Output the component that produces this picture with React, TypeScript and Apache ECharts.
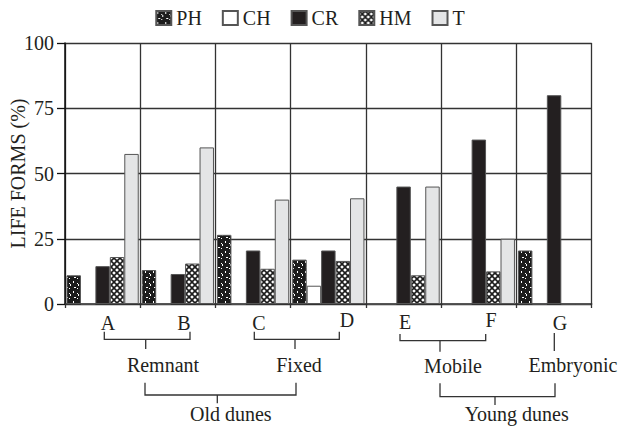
import React, { useEffect, useRef } from "react";
import * as echarts from "echarts";

// ---- data ----
const categories = ["A", "B", "C", "D", "E", "F", "G"];
const seriesNames = ["PH", "CH", "CR", "HM", "T"];
const phValues = [11, 13, 26.5, 17, 0, 0, 20.5];
const chValues = [0, 0, 0, 7, 0, 0, 0];
const crValues = [14.5, 11.5, 20.5, 20.5, 45, 63, 80];
const hmValues = [18, 15.5, 13.5, 16.5, 11, 12.5, 0];
const tValues = [57.5, 60, 40, 40.5, 45, 25, 0];
const yMin = 0;
const yMax = 100;
const yInterval = 25;
const yTitle = "LIFE FORMS (%)";
const level1Labels = ["Remnant", "Fixed", "Mobile", "Embryonic"];
const level2Labels = ["Old dunes", "Young dunes"];

// ---- layout (positions only) ----
const catLabelX = [108, 184, 259, 347, 405, 491, 560];
const catLabelY = [322.5, 322.5, 323, 319.5, 321.5, 320, 323];
const level1Brackets = [
  { x1: 104.3, x2: 190, y: 339.3, top: 331.7, stem: 145.7, bottom: 349, lx: 163, ly: 364.5 },
  { x1: 254.3, x2: 339.3, y: 339.3, top: 331.7, stem: 295, bottom: 349, lx: 299, ly: 364.5 },
  { x1: 400, x2: 485.7, y: 340.7, top: 334, stem: 440, bottom: 351.7, lx: 453, ly: 366 },
  { x1: 554.3, x2: 554.3, y: 333, top: 333, stem: 554.3, bottom: 351, lx: 573, ly: 365 },
];
const level2Brackets = [
  { x1: 145, x2: 296, y: 395, top: 382.7, stem: 217.3, bottom: 403.3, lx: 230.8, ly: 414 },
  { x1: 440, x2: 555, y: 396.7, top: 383.3, stem: 495, bottom: 405, lx: 516.7, ly: 414 },
];

const FONT = '"Liberation Serif", "DejaVu Serif", serif';
const TEXT = "#231f20";
const LINE = "#333";

function makeTile(w: number, h: number, draw: (ctx: CanvasRenderingContext2D) => void) {
  const c = document.createElement("canvas");
  c.width = w;
  c.height = h;
  const ctx = c.getContext("2d")!;
  draw(ctx);
  return { image: c, repeat: "repeat" } as any;
}

export default function App() {
  const ref = useRef<HTMLDivElement>(null);
  useEffect(() => {
    if (!ref.current) return;
    document.body.style.margin = "0";
    const chart = echarts.init(ref.current, undefined, { renderer: "svg" });

    const speckle = makeTile(8, 10, (ctx) => {
      ctx.fillStyle = "#1c1c1c";
      ctx.fillRect(0, 0, 8, 10);
      ctx.fillStyle = "#ffffff";
      ctx.fillRect(1, 1, 1, 2);
      ctx.fillRect(5, 3, 1, 1);
      ctx.fillRect(6, 4, 1, 2);
      ctx.fillRect(2, 7, 2, 1);
      ctx.fillRect(5, 8, 1, 1);
    });
    const hatch = makeTile(6, 6, (ctx) => {
      ctx.fillStyle = "#ffffff";
      ctx.fillRect(0, 0, 6, 6);
      ctx.strokeStyle = "#1c1c1c";
      ctx.lineWidth = 1.6;
      for (const o of [-6, 0, 6]) {
        ctx.beginPath();
        ctx.moveTo(o, 0);
        ctx.lineTo(o + 6, 6);
        ctx.stroke();
        ctx.beginPath();
        ctx.moveTo(o + 6, 0);
        ctx.lineTo(o, 6);
        ctx.stroke();
      }
    });

    const fills = [speckle, "#ffffff", "#231f20", hatch, "#e4e5e6"];
    const values = [phValues, chValues, crValues, hmValues, tValues];

    const graphic: any[] = [];
    categories.forEach((c, i) => {
      graphic.push({
        type: "text",
        x: catLabelX[i],
        y: catLabelY[i],
        style: { text: c, font: `20px ${FONT}`, fill: TEXT, align: "center", verticalAlign: "middle" },
      });
    });
    const addBracket = (b: any, label: string) => {
      graphic.push({
        type: "polyline",
        shape: { points: [[b.x1, b.top], [b.x1, b.y], [b.x2, b.y], [b.x2, b.top]] },
        style: { stroke: LINE, lineWidth: 1.3, fill: null },
      });
      graphic.push({
        type: "line",
        shape: { x1: b.stem, y1: b.y, x2: b.stem, y2: b.bottom },
        style: { stroke: LINE, lineWidth: 1.3 },
      });
      graphic.push({
        type: "text",
        x: b.lx,
        y: b.ly,
        style: { text: label, font: `20px ${FONT}`, fill: TEXT, align: "center", verticalAlign: "middle" },
      });
    };
    level1Brackets.forEach((b, i) => addBracket(b, level1Labels[i]));
    level2Brackets.forEach((b, i) => addBracket(b, level2Labels[i]));

    chart.setOption({
      animation: false,
      backgroundColor: "#ffffff",
      legend: {
        data: seriesNames,
        top: 3,
        left: "center",
        icon: "rect",
        itemWidth: 15,
        itemHeight: 14,
        itemGap: 20,
        textStyle: { fontFamily: FONT, fontSize: 20, color: TEXT },
      },
      grid: {
        left: 65,
        right: 28.3,
        top: 43,
        bottom: 124,
        containLabel: false,
        outerBoundsMode: "none",
      },
      xAxis: {
        type: "category",
        data: categories,
        boundaryGap: true,
        axisLine: { lineStyle: { color: LINE, width: 1.5 } },
        axisTick: { show: true, length: 4, interval: 0, lineStyle: { color: LINE, width: 1.3 } },
        axisLabel: { show: false },
        splitLine: { show: true, interval: 0, lineStyle: { color: LINE, width: 1.3 } },
      },
      yAxis: {
        type: "value",
        min: yMin,
        max: yMax,
        interval: yInterval,
        name: yTitle,
        nameLocation: "middle",
        nameGap: 37,
        nameRotate: 90,
        nameMoveOverlap: false,
        nameTextStyle: { fontFamily: FONT, fontSize: 20, color: TEXT },
        axisLine: { show: true, lineStyle: { color: "#111", width: 1.5 } },
        axisTick: { show: true, length: 8, lineStyle: { color: "#111", width: 1.3 } },
        axisLabel: { fontFamily: FONT, fontSize: 20, color: TEXT, margin: 11 },
        splitLine: { show: true, lineStyle: { color: LINE, width: 1.3 } },
      },
      series: seriesNames.map((name, i) => ({
        name,
        type: "bar",
        data: values[i],
        barGap: "0%",
        barCategoryGap: "4%",
        itemStyle: { color: fills[i], borderColor: "#555", borderWidth: 1 },
      })),
      graphic,
    });
    return () => chart.dispose();
  }, []);
  return (
    <div
      ref={ref}
      style={{ position: "absolute", left: 0, top: 0, width: 620, height: 428 }}
    />
  );
}
